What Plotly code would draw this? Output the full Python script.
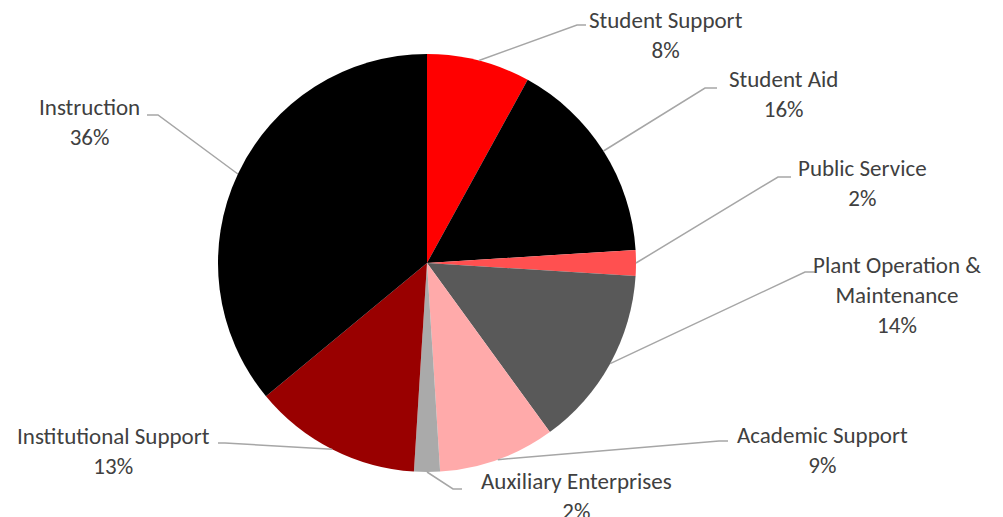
import numpy as np
import plotly.graph_objects as go

# 데이터
categories = ['Student Support', 'Student Aid', 'Public Service', 'Plant Operation &<br>Maintenance',
              'Academic Support', 'Auxiliary Enterprises', 'Institutional Support', 'Instruction']
shares = [8, 16, 2, 14, 9, 2, 13, 36]
slice_colors = ['#ff0000', '#000000', '#ff5050', '#595959', '#ffaaaa', '#aaaaaa', '#990000', '#000000']

W, H = 1003, 517
CX, CY, R = 427, 263, 209  # 파이 중심 / 반지름 (px)

# 라벨 위치 (px): 꺾이는 점, 꼬리 끝, 텍스트 중심
label_pos = [
    dict(elbow=(577, 25), tail=(586, 25), text=(666, 35)),
    dict(elbow=(705, 88), tail=(717, 88), text=(783, 94)),
    dict(elbow=(778, 177), tail=(791, 177), text=(862, 183)),
    dict(elbow=(805, 272), tail=(815, 272), text=(897, 295)),
    dict(elbow=(719, 441), tail=(728, 441), text=(822, 450)),
    dict(elbow=(453, 489), tail=(462, 489), text=(576, 496)),
    dict(elbow=(225, 443), tail=(218, 443), text=(113, 451)),
    dict(elbow=(158, 115), tail=(147, 115), text=(89, 122)),
]


def px_to_paper(x, y):
    return x / W, 1 - y / H


fig = go.Figure()

fig.add_trace(go.Pie(
    labels=categories,
    values=shares,
    sort=False,
    direction='clockwise',
    rotation=0,
    marker=dict(colors=slice_colors, line=dict(width=0)),
    textinfo='none',
    hoverinfo='skip',
    showlegend=False,
    domain=dict(x=[(CX - R) / W, (CX + R) / W], y=[1 - (CY + R) / H, 1 - (CY - R) / H]),
))

# 리더선 + 라벨
total = sum(shares)
cum = np.cumsum([0] + shares[:-1])
shapes = []
annotations = []
for i, (name, v) in enumerate(zip(categories, shares)):
    mid = (cum[i] + v / 2) / total * 2 * np.pi
    sx, sy = CX + R * np.sin(mid), CY - R * np.cos(mid)
    pos = label_pos[i]
    pts = [px_to_paper(sx, sy), px_to_paper(*pos['elbow']), px_to_paper(*pos['tail'])]
    path = 'M {} {} L {} {} L {} {}'.format(*[c for p in pts for c in p])
    shapes.append(dict(type='path', xref='paper', yref='paper', path=path,
                       line=dict(color='#a6a6a6', width=1.5)))
    tx, ty = px_to_paper(*pos['text'])
    annotations.append(dict(
        x=tx, y=ty, xref='paper', yref='paper', xanchor='center', yanchor='middle',
        text=f'{name}<br>{round(v / total * 100)}%', showarrow=False,
        font=dict(family='Carlito, Lato, sans-serif', size=23, color='#404040'),
    ))

fig.update_layout(
    width=W, height=H,
    margin=dict(l=0, r=0, t=0, b=0),
    paper_bgcolor='white',
    plot_bgcolor='white',
    shapes=shapes,
    annotations=annotations,
)

# 브라우저 기본 body 여백 제거
fig.write_html("out.html", config={'displayModeBar': False},
               post_script="document.body.style.margin='0';")
